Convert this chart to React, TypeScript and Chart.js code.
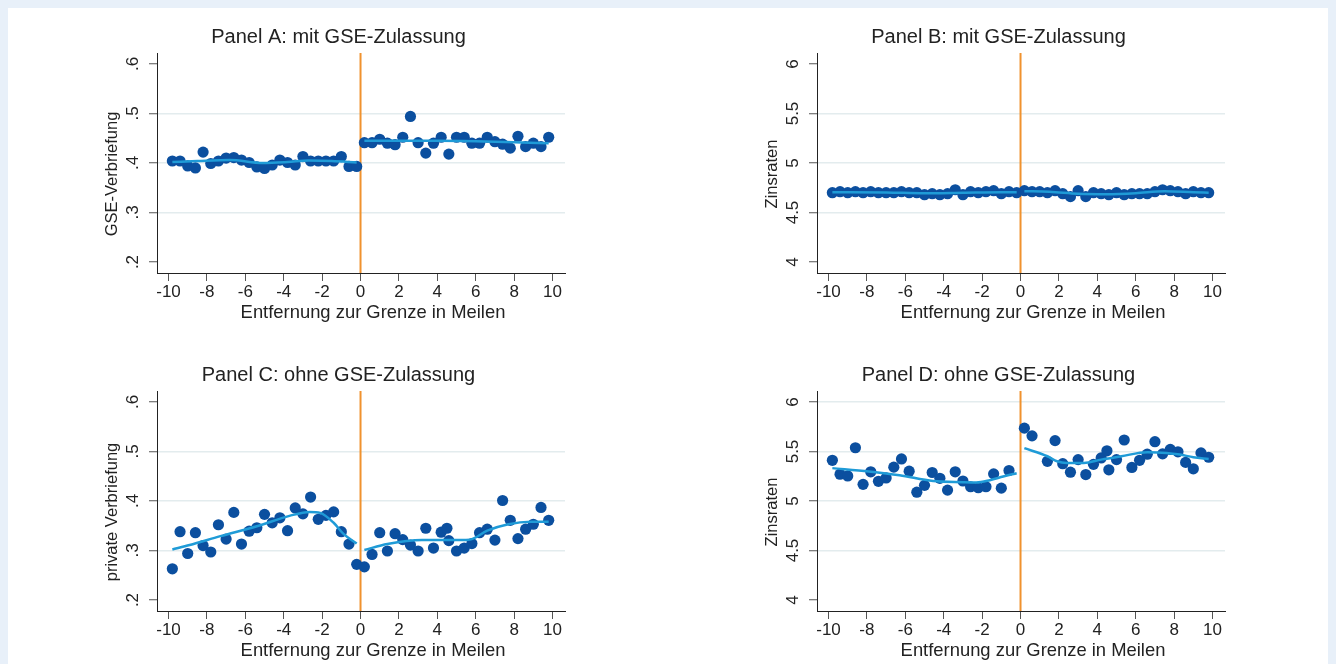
import React, { useEffect, useRef } from "react";
import { Chart, registerables } from "chart.js";

Chart.register(...registerables);

// ---------- data ----------
const xTicks = [-10, -8, -6, -4, -2, 0, 2, 4, 6, 8, 10];
const xTickLabels = ["-10", "-8", "-6", "-4", "-2", "0", "2", "4", "6", "8", "10"];

const shareTicks = [0.2, 0.3, 0.4, 0.5, 0.6];
const shareTickLabels = [".2", ".3", ".4", ".5", ".6"];
const rateTicks = [4, 4.5, 5, 5.5, 6];
const rateTickLabels = ["4", "4.5", "5", "5.5", "6"];

const binsLeft = [-9.8, -9.4, -9.0, -8.6, -8.2, -7.8, -7.4, -7.0, -6.6, -6.2, -5.8, -5.4, -5.0, -4.6, -4.2, -3.8, -3.4, -3.0, -2.6, -2.2, -1.8, -1.4, -1.0, -0.6, -0.2];
const binsRight = [0.2, 0.6, 1.0, 1.4, 1.8, 2.2, 2.6, 3.0, 3.4, 3.8, 4.2, 4.6, 5.0, 5.4, 5.8, 6.2, 6.6, 7.0, 7.4, 7.8, 8.2, 8.6, 9.0, 9.4, 9.8];

// Panel A: GSE-Verbriefung, mit GSE-Zulassung
const aLeftY = [0.404, 0.404, 0.394, 0.390, 0.422, 0.399, 0.404, 0.410, 0.411, 0.406, 0.401, 0.392, 0.389, 0.396, 0.406, 0.401, 0.396, 0.413, 0.404, 0.404, 0.404, 0.404, 0.413, 0.393, 0.393];
const aRightY = [0.441, 0.441, 0.448, 0.440, 0.437, 0.452, 0.494, 0.441, 0.420, 0.440, 0.452, 0.418, 0.452, 0.452, 0.440, 0.440, 0.452, 0.443, 0.438, 0.430, 0.454, 0.433, 0.440, 0.433, 0.452];
const aFitLeftX = [-9.8, -8.5, -6.8, -5.1, -3.8, -2.7, -1.5, -0.2];
const aFitLeftY = [0.402, 0.404, 0.406, 0.400, 0.402, 0.405, 0.404, 0.401];
const aFitRightX = [0.2, 2, 4, 6, 8, 9.8];
const aFitRightY = [0.445, 0.445, 0.445, 0.444, 0.442, 0.440];

// Panel B: Zinsraten, mit GSE-Zulassung
const bLeftY = [4.70, 4.71, 4.70, 4.71, 4.70, 4.71, 4.70, 4.70, 4.70, 4.71, 4.70, 4.70, 4.68, 4.69, 4.68, 4.69, 4.73, 4.68, 4.71, 4.70, 4.71, 4.72, 4.69, 4.71, 4.70];
const bRightY = [4.72, 4.71, 4.71, 4.70, 4.72, 4.69, 4.66, 4.72, 4.66, 4.70, 4.69, 4.68, 4.70, 4.68, 4.69, 4.69, 4.69, 4.71, 4.73, 4.72, 4.71, 4.69, 4.71, 4.70, 4.70];
const bFitLeftX = [-9.8, -7, -5, -3, -1, -0.2];
const bFitLeftY = [4.705, 4.703, 4.695, 4.700, 4.705, 4.705];
const bFitRightX = [0.2, 1.5, 3, 4.5, 6, 7.5, 9, 9.8];
const bFitRightY = [4.715, 4.710, 4.690, 4.685, 4.695, 4.715, 4.705, 4.700];

// Panel C: private Verbriefung, ohne GSE-Zulassung
const cLeftY = [0.263, 0.338, 0.294, 0.336, 0.310, 0.297, 0.352, 0.323, 0.377, 0.313, 0.339, 0.346, 0.373, 0.356, 0.366, 0.340, 0.386, 0.374, 0.408, 0.363, 0.371, 0.378, 0.338, 0.313, 0.272];
const cRightX = [0.2, 0.6, 1.0, 1.4, 1.8, 2.2, 2.6, 3.0, 3.4, 3.8, 4.2, 4.5, 4.6, 5.0, 5.4, 5.8, 6.2, 6.6, 7.0, 7.4, 7.8, 8.2, 8.6, 9.0, 9.4, 9.8];
const cRightY = [0.267, 0.292, 0.336, 0.299, 0.334, 0.322, 0.311, 0.299, 0.345, 0.305, 0.337, 0.345, 0.320, 0.299, 0.305, 0.314, 0.336, 0.343, 0.321, 0.401, 0.361, 0.324, 0.343, 0.353, 0.387, 0.361];
const cFitLeftX = [-9.8, -8.9, -7.3, -5.4, -3.7, -2.65, -2.1, -1.4, -0.9, -0.2];
const cFitLeftY = [0.302, 0.311, 0.329, 0.349, 0.370, 0.378, 0.376, 0.356, 0.334, 0.314];
const cFitRightX = [0.2, 1.4, 3.2, 5.2, 5.7, 6.6, 7.7, 8.9, 9.8];
const cFitRightY = [0.301, 0.313, 0.321, 0.321, 0.322, 0.340, 0.353, 0.358, 0.358];

// Panel D: Zinsraten, ohne GSE-Zulassung
const dLeftX = [-9.8, -9.4, -9.0, -8.6, -8.2, -7.8, -7.4, -7.0, -6.6, -6.2, -5.8, -5.4, -5.0, -4.6, -4.2, -3.8, -3.4, -3.0, -2.6, -2.2, -1.8, -1.4, -1.0, -0.6];
const dLeftY = [5.411, 5.271, 5.253, 5.538, 5.168, 5.295, 5.199, 5.233, 5.342, 5.425, 5.301, 5.089, 5.158, 5.288, 5.229, 5.110, 5.295, 5.202, 5.144, 5.134, 5.144, 5.274, 5.130, 5.308];
const dRightX = [0.2, 0.6, 1.4, 1.8, 2.2, 2.6, 3.0, 3.4, 3.8, 4.2, 4.5, 4.6, 5.0, 5.4, 5.8, 6.2, 6.6, 7.0, 7.4, 7.8, 8.2, 8.6, 9.0, 9.4, 9.8];
const dRightY = [5.736, 5.658, 5.401, 5.610, 5.377, 5.291, 5.418, 5.267, 5.370, 5.435, 5.507, 5.315, 5.418, 5.616, 5.339, 5.411, 5.473, 5.599, 5.476, 5.521, 5.497, 5.390, 5.325, 5.486, 5.442];
const dFitLeftX = [-9.8, -7.9, -6.3, -4.55, -3.0, -2.3, -1.6, -0.9, -0.2];
const dFitLeftY = [5.332, 5.298, 5.260, 5.202, 5.190, 5.187, 5.210, 5.247, 5.281];
const dFitRightX = [0.2, 1.4, 1.9, 2.4, 3.3, 4.2, 5.25, 6.6, 7.6, 8.3, 9.0, 9.8];
const dFitRightY = [5.534, 5.452, 5.401, 5.384, 5.384, 5.418, 5.452, 5.493, 5.486, 5.469, 5.442, 5.425];

// ---------- styles ----------
const FONT = "'Liberation Sans', Arial, sans-serif";
const TEXT = "#222222";
const DOT = "#0b4f9f";
const FIT = "#1f9bd7";
const CUTOFF = "#f0922e";
const GRID = "#e3ecee";
const PAGE_BG = "#e8f0f9";

type Pt = { x: number; y: number };
const zip = (xs: number[], ys: number[]): Pt[] => xs.map((x, i) => ({ x, y: ys[i] }));

interface PanelCfg {
  title: string;
  yTitle: string;
  left: number;
  top: number;
  yMin: number;
  yMax: number;
  yTicks: number[];
  yTickLabels: string[];
  gridValues: number[];
  points: Pt[];
  fitLeft: Pt[];
  fitRight: Pt[];
}

const panels: PanelCfg[] = [
  {
    title: "Panel A: mit GSE-Zulassung",
    yTitle: "GSE-Verbriefung",
    left: 0, top: 0,
    yMin: 0.1778, yMax: 0.6222,
    yTicks: shareTicks, yTickLabels: shareTickLabels,
    gridValues: [0.3, 0.4, 0.5],
    points: zip(binsLeft, aLeftY).concat(zip(binsRight, aRightY)),
    fitLeft: zip(aFitLeftX, aFitLeftY),
    fitRight: zip(aFitRightX, aFitRightY),
  },
  {
    title: "Panel B: mit GSE-Zulassung",
    yTitle: "Zinsraten",
    left: 660, top: 0,
    yMin: 3.889, yMax: 6.111,
    yTicks: rateTicks, yTickLabels: rateTickLabels,
    gridValues: [4.5, 5, 5.5],
    points: zip(binsLeft, bLeftY).concat(zip(binsRight, bRightY)),
    fitLeft: zip(bFitLeftX, bFitLeftY),
    fitRight: zip(bFitRightX, bFitRightY),
  },
  {
    title: "Panel C: ohne GSE-Zulassung",
    yTitle: "private Verbriefung",
    left: 0, top: 338,
    yMin: 0.1778, yMax: 0.6222,
    yTicks: shareTicks, yTickLabels: shareTickLabels,
    gridValues: [0.3, 0.4, 0.5],
    points: zip(binsLeft, cLeftY).concat(zip(cRightX, cRightY)),
    fitLeft: zip(cFitLeftX, cFitLeftY),
    fitRight: zip(cFitRightX, cFitRightY),
  },
  {
    title: "Panel D: ohne GSE-Zulassung",
    yTitle: "Zinsraten",
    left: 660, top: 338,
    yMin: 3.889, yMax: 6.111,
    yTicks: rateTicks, yTickLabels: rateTickLabels,
    gridValues: [4.5, 5, 5.5, 6],
    points: zip(dLeftX, dLeftY).concat(zip(dRightX, dRightY)),
    fitLeft: zip(dFitLeftX, dFitLeftY),
    fitRight: zip(dFitRightX, dFitRightY),
  },
];

const decorPlugin = {
  id: "panelDecor",
  beforeDatasetsDraw(chart: any) {
    const { ctx, chartArea, scales } = chart;
    const x0 = scales.x.getPixelForValue(0);
    ctx.save();
    ctx.strokeStyle = CUTOFF;
    ctx.lineWidth = 2;
    ctx.beginPath();
    ctx.moveTo(x0, chartArea.top);
    ctx.lineTo(x0, chartArea.bottom);
    ctx.stroke();
    ctx.restore();
  },
  afterDraw(chart: any, _args: any, opts: any) {
    const { ctx, chartArea, scales } = chart;
    const ys = scales.y;
    ctx.save();
    ctx.fillStyle = TEXT;
    ctx.textAlign = "center";
    ctx.textBaseline = "middle";
    // y tick labels (vertical)
    ctx.font = `17px ${FONT}`;
    ys.ticks.forEach((t: any) => {
      const py = ys.getPixelForValue(t.value);
      ctx.save();
      ctx.translate(chartArea.left - 23.5, py);
      ctx.rotate(-Math.PI / 2);
      ctx.fillText(t.label, 0, 0);
      ctx.restore();
    });
    // y axis title
    ctx.font = `16.5px ${FONT}`;
    ctx.save();
    ctx.translate(chartArea.left - 45, (chartArea.top + chartArea.bottom) / 2 + 11);
    ctx.rotate(-Math.PI / 2);
    ctx.fillText(opts.yTitle, 0, 0);
    ctx.restore();
    // x axis title
    ctx.font = `18.4px ${FONT}`;
    ctx.fillText(opts.xTitle, (chartArea.left + chartArea.right) / 2 + 12, chartArea.bottom + 40);
    ctx.restore();
  },
};

function makeConfig(p: PanelCfg): any {
  return {
    type: "scatter",
    data: {
      datasets: [
        {
          type: "line",
          data: p.fitLeft,
          borderColor: FIT,
          borderWidth: 2.5,
          pointRadius: 0,
          cubicInterpolationMode: "monotone",
          fill: false,
          order: 0,
        },
        {
          type: "line",
          data: p.fitRight,
          borderColor: FIT,
          borderWidth: 2.5,
          pointRadius: 0,
          cubicInterpolationMode: "monotone",
          fill: false,
          order: 0,
        },
        {
          type: "scatter",
          data: p.points,
          backgroundColor: DOT,
          borderWidth: 0,
          pointRadius: 5.6,
          order: 1,
        },
      ],
    },
    options: {
      responsive: false,
      animation: false,
      events: [],
      layout: { padding: { left: 104, right: 103, top: 0, bottom: 15 } },
      plugins: {
        legend: { display: false },
        tooltip: { enabled: false },
        title: {
          display: true,
          text: p.title,
          color: TEXT,
          font: { family: FONT, size: 20, weight: "normal", lineHeight: 1.2 },
          padding: { top: 17, bottom: 4 },
        },
        panelDecor: { yTitle: p.yTitle, xTitle: "Entfernung zur Grenze in Meilen" },
      },
      scales: {
        x: {
          type: "linear",
          min: -10.6,
          max: 10.65,
          afterBuildTicks: (s: any) => {
            s.ticks = xTicks.map((v) => ({ value: v }));
          },
          afterFit: (s: any) => {
            s.height = 50;
          },
          ticks: {
            autoSkip: false,
            maxRotation: 0,
            minRotation: 0,
            padding: 1,
            color: TEXT,
            font: { family: FONT, size: 17, lineHeight: 1.2 },
            callback: (v: number) => xTickLabels[xTicks.indexOf(v)] ?? String(v),
          },
          grid: { drawOnChartArea: false, drawTicks: true, tickLength: 8, tickColor: "#555555", tickWidth: 1 },
          border: { display: true, color: "#222222", width: 1 },
        },
        y: {
          type: "linear",
          min: p.yMin,
          max: p.yMax,
          afterBuildTicks: (s: any) => {
            s.ticks = p.yTicks.map((v) => ({ value: v }));
          },
          afterFit: (s: any) => {
            s.width = 45;
          },
          ticks: {
            display: false,
            callback: (v: number) => p.yTickLabels[p.yTicks.indexOf(v)] ?? String(v),
          },
          grid: {
            drawTicks: true,
            tickLength: 8,
            tickColor: "#555555",
            tickWidth: 1,
            lineWidth: 1.5,
            color: (c: any) =>
              c.tick && p.gridValues.some((g) => Math.abs(g - c.tick.value) < 1e-9) ? GRID : "rgba(0,0,0,0)",
          },
          border: { display: true, color: "#222222", width: 1 },
        },
      },
    },
    plugins: [decorPlugin],
  };
}

function Panel({ cfg }: { cfg: PanelCfg }) {
  const ref = useRef<HTMLCanvasElement | null>(null);
  useEffect(() => {
    if (!ref.current) return;
    const chart = new Chart(ref.current, makeConfig(cfg));
    return () => chart.destroy();
  }, [cfg]);
  return (
    <canvas
      ref={ref}
      width={660}
      height={330}
      style={{ position: "absolute", left: cfg.left, top: cfg.top, width: 660, height: 330 }}
    />
  );
}

export default function App() {
  useEffect(() => {
    document.documentElement.style.background = PAGE_BG;
    document.body.style.background = PAGE_BG;
    document.body.style.margin = "8px";
    document.body.style.overflow = "hidden";
  }, []);
  return (
    <div style={{ position: "relative", width: 1320, height: 670, background: "#ffffff", overflow: "hidden" }}>
      {panels.map((p) => (
        <Panel key={p.title} cfg={p} />
      ))}
    </div>
  );
}
